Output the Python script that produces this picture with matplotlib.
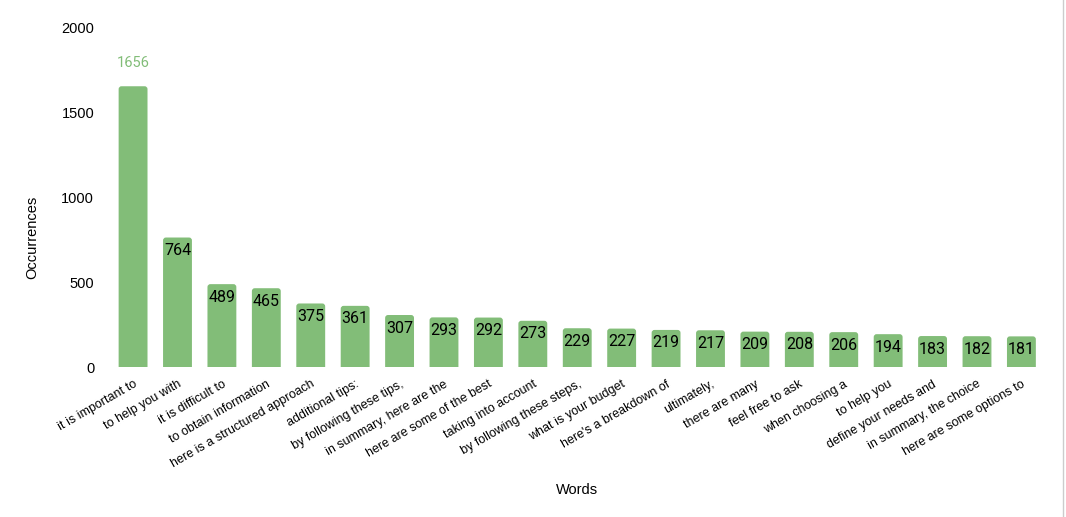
import matplotlib.pyplot as plt
from matplotlib.lines import Line2D
from matplotlib.patches import FancyBboxPatch

# phrase counts
words = ['it is important to', 'to help you with', 'it is difficult to',
         'to obtain information', 'here is a structured approach',
         'additional tips:', 'by following these tips,',
         'in summary, here are the', 'here are some of the best',
         'taking into account', 'by following these steps,',
         'what is your budget', "here's a breakdown of", 'ultimately,',
         'there are many', 'feel free to ask', 'when choosing a',
         'to help you', 'define your needs and', 'in summary, the choice',
         'here are some options to']
counts = [1656, 764, 489, 465, 375, 361, 307, 293, 292, 273, 229,
          227, 219, 217, 209, 208, 206, 194, 183, 182, 181]

green = '#82bd78'
W, H = 1066, 517

fig = plt.figure(figsize=(W / 100, H / 100), dpi=100)
ax = fig.add_axes([0.104, 0.29, 0.875, 0.656])
ax.set_xlim(-0.5, len(words) - 0.5)
ax.set_ylim(0, 2000)

x = range(len(words))
bars = ax.bar(x, counts, width=0.65, color=green)

# swap plain bars for ones with slightly rounded tops
px_x = 0.875 * W / len(words)      # pixels per x unit
px_y = 0.656 * H / 2000            # pixels per y unit
for b in bars:
    b.set_visible(False)
    r = b.get_width() * 0.1
    box = FancyBboxPatch((b.get_x(), -40), b.get_width(), b.get_height() + 40,
                         boxstyle=f'round,pad=0,rounding_size={r}',
                         mutation_aspect=px_x / px_y,
                         facecolor=green, edgecolor='none')
    ax.add_patch(box)

for i, (b, c) in enumerate(zip(bars, counts)):
    if i == 0:
        ax.annotate(str(c), (b.get_x() + b.get_width() / 2, c),
                    xytext=(0, 12), textcoords='offset points',
                    ha='center', va='bottom', color=green,
                    family='Roboto', fontsize=10.5)
    else:
        ax.annotate(str(c), (b.get_x() + b.get_width() / 2, c),
                    xytext=(0, -4), textcoords='offset points',
                    ha='center', va='top', color='black',
                    family='Roboto', fontsize=11.5)

ax.set_yticks([0, 500, 1000, 1500, 2000])
ax.set_xticks(list(x))
ax.set_xticklabels(words, rotation=30, ha='right', rotation_mode='anchor',
                   family='Liberation Sans', fontsize=9)
for t in ax.get_yticklabels():
    t.set_family('Liberation Sans')
    t.set_fontsize(10.5)
ax.tick_params(axis='both', length=0)
ax.tick_params(axis='y', pad=12)
ax.tick_params(axis='x', pad=8)
for s in ax.spines.values():
    s.set_visible(False)

fig.text(32 / W, 1 - 237 / H, 'Occurrences', rotation=90, ha='center',
         va='center', family='Liberation Sans', fontsize=10.5)
fig.text(577 / W, 1 - 490 / H, 'Words', ha='center', va='center',
         family='Liberation Sans', fontsize=10.5)

fig.add_artist(Line2D([0.9975, 0.9975], [0, 1], color='#cccccc', lw=1))

fig.savefig('out.png', dpi=100)
